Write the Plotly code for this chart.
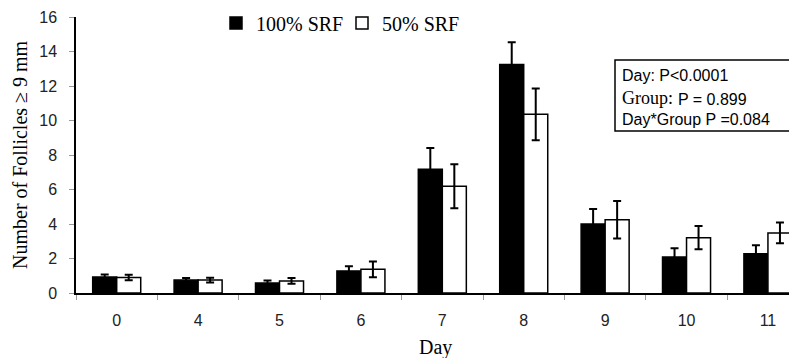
import plotly.graph_objects as go

days = ["0", "4", "5", "6", "7", "8", "9", "10", "11"]
srf100 = [0.93, 0.75, 0.58, 1.28, 7.17, 13.24, 4.0, 2.09, 2.28]
srf100_err = [0.14, 0.12, 0.15, 0.27, 1.23, 1.3, 0.87, 0.5, 0.49]
srf50 = [0.9, 0.75, 0.7, 1.37, 6.19, 10.36, 4.25, 3.21, 3.48]
srf50_err = [0.16, 0.14, 0.17, 0.45, 1.27, 1.5, 1.09, 0.68, 0.6]

# the page body adds an 8px offset; work in page coordinates and subtract it
OFF = 8
PAGE_W, PAGE_H = 797, 358
W, H = PAGE_W - OFF, PAGE_H - OFF
ML, MR, MT, MB = 76 - OFF, 0, 17 - OFF, PAGE_H - 293
pw = W - ML - MR
ph = H - MT - MB


def px(xp):
    return (xp - OFF - ML) / pw


def py(yp):
    return (H - MB - (yp - OFF)) / ph


fig = go.Figure()
fig.add_trace(go.Bar(
    x=days, y=srf100, name="100% SRF",
    marker=dict(color="black", line=dict(color="black", width=1.5)),
    error_y=dict(type="data", array=srf100_err, color="black", thickness=2, width=4),
))
fig.add_trace(go.Bar(
    x=days, y=srf50, name="50% SRF",
    marker=dict(color="white", line=dict(color="black", width=1.5)),
    error_y=dict(type="data", array=srf50_err, color="black", thickness=2, width=4),
))

serif = "Liberation Serif, Times New Roman, serif"
sans = "Liberation Sans, Arial, sans-serif"

fig.update_layout(
    width=W, height=H,
    margin=dict(l=ML, r=MR, t=MT, b=MB, pad=0, autoexpand=False),
    paper_bgcolor="white", plot_bgcolor="white",
    barmode="group", bargap=0.41, bargroupgap=0,
    showlegend=True,
    legend=dict(
        orientation="h", x=px(216), y=py(23), xanchor="left", yanchor="middle",
        font=dict(family=serif, size=20, color="black"),
        bgcolor="rgba(0,0,0,0)", itemwidth=30, entrywidth=81,
        traceorder="normal",
    ),
    xaxis=dict(
        type="category", range=[-0.5, 8.357], automargin=False,
        showline=True, linecolor="black", linewidth=1.5,
        ticks="outside", tickson="boundaries", ticklen=5, tickcolor="#999",
        tickfont=dict(family=sans, size=16, color="#222"),
        ticklabelstandoff=12, showgrid=False, zeroline=False,
    ),
    yaxis=dict(
        range=[0, 16], dtick=2, tick0=0, automargin=False,
        showline=True, linecolor="black", linewidth=1.5,
        ticks="outside", ticklen=5, tickcolor="#999",
        tickfont=dict(family=sans, size=16, color="#222"),
        ticklabelstandoff=9, showgrid=False, zeroline=False,
    ),
)

# axis titles
fig.add_annotation(
    text="Day", xref="paper", yref="paper",
    x=px(435), y=py(347),
    showarrow=False, xanchor="center", yanchor="middle",
    font=dict(family=serif, size=20, color="black"),
)
fig.add_annotation(
    text="Number of Follicles ≥ 9 mm", xref="paper", yref="paper",
    x=px(20), y=py(155), textangle=-90,
    showarrow=False, xanchor="center", yanchor="middle",
    font=dict(family=serif, size=20, color="black"),
)

# statistics box
fig.add_shape(
    type="rect", xref="paper", yref="paper",
    x0=px(615), x1=px(810), y0=py(131), y1=py(60),
    line=dict(color="black", width=1.5), fillcolor="white",
)
stat_lines = [
    ("Day: P<0.0001", sans, 16, 620, 76),
    ("Group:", serif, 18, 620, 98),
    ("P = 0.899", sans, 16, 676, 99),
    ("Day*Group P =0.084", sans, 16, 620, 119),
]
for txt, fam, sz, xp, yp in stat_lines:
    fig.add_annotation(
        text=txt, xref="paper", yref="paper", x=px(xp), y=py(yp),
        xanchor="left", yanchor="middle", align="left", showarrow=False,
        font=dict(family=fam, size=sz, color="black"),
    )

fig.write_html("out.html")
